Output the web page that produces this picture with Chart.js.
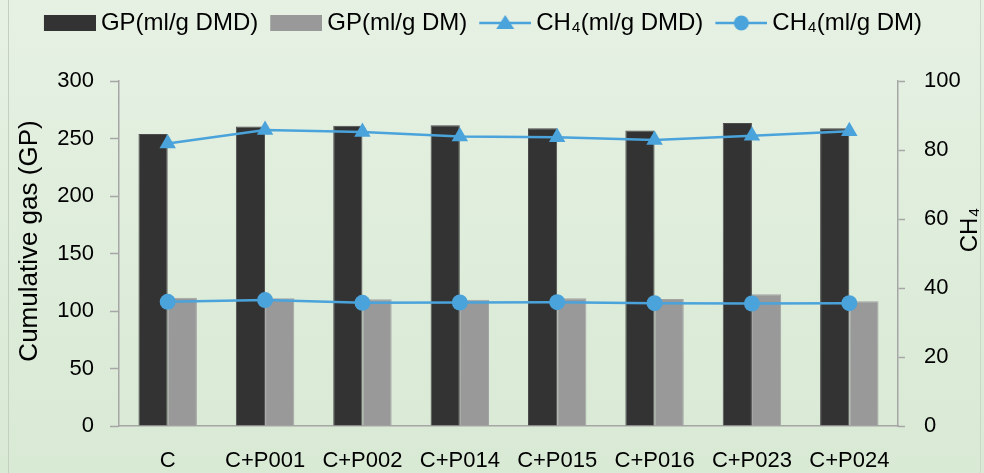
<!DOCTYPE html>
<html><head><meta charset="utf-8">
<script src="https://cdn.jsdelivr.net/npm/chart.js@4/dist/chart.umd.min.js"></script>
<style>
html,body{margin:0;padding:0;}
body{width:984px;height:473px;overflow:hidden;background:linear-gradient(#e6f1e3,#d8e9d4);position:relative;}
#frame{position:absolute;left:8px;top:-2px;width:973px;height:480px;border-left:1px solid #c3d0c0;border-right:1px solid #cad7c7;box-sizing:border-box;}
#wrap{position:absolute;left:0;top:0;width:984px;height:473px;}
</style></head><body>
<div id="frame"></div>
<div id="wrap"><canvas id="c" width="984" height="473"></canvas></div>
<script>
const categories = ['C', 'C+P001', 'C+P002', 'C+P014', 'C+P015', 'C+P016', 'C+P023', 'C+P024'];
const gpDMD = [254, 260.5, 261, 261.5, 259, 257, 263.5, 259];
const gpDM = [111.5, 111, 110.3, 109.8, 111, 110.5, 114.5, 108.5];
const ch4DMD = [81.9, 85.8, 85.2, 83.9, 83.7, 82.9, 84.1, 85.4];
const ch4DM = [36.0, 36.5, 35.7, 35.8, 35.9, 35.6, 35.5, 35.6];
const leftTicks = [0, 50, 100, 150, 200, 250, 300];
const rightTicks = [0, 20, 40, 60, 80, 100];
const seriesNames = ['GP(ml/g DMD)', 'GP(ml/g DM)', 'CH\u2084(ml/g DMD)', 'CH\u2084(ml/g DM)'];
const leftTitle = 'Cumulative gas (GP)';
const rightTitle = 'CH\u2084';

const DARK = '#333333', GRAY = '#999999', BLUE = '#4aa3db', AXIS = '#a6a6a6';
const FONT = "'Liberation Sans', Arial, sans-serif";

function legendImage(kind) {
  const cv = document.createElement('canvas');
  cv.width = 61; cv.height = 24;
  const g = cv.getContext('2d');
  const x0 = 9, w = 52, cy = 12;
  if (kind === 'dark' || kind === 'gray') {
    g.fillStyle = kind === 'dark' ? DARK : GRAY;
    g.fillRect(x0, cy - 8, w, 16);
  } else {
    g.strokeStyle = BLUE; g.lineWidth = 2.5;
    g.beginPath(); g.moveTo(x0, cy); g.lineTo(x0 + w, cy); g.stroke();
    g.fillStyle = BLUE;
    const cx = x0 + w / 2;
    if (kind === 'tri') {
      g.beginPath(); g.moveTo(cx, cy - 8); g.lineTo(cx + 9, cy + 6); g.lineTo(cx - 9, cy + 6); g.closePath(); g.fill();
    } else {
      g.beginPath(); g.arc(cx, cy, 7.5, 0, Math.PI * 2); g.fill();
    }
  }
  return cv;
}
const legendImgs = [legendImage('dark'), legendImage('gray'), legendImage('tri'), legendImage('dot')];

const titlesPlugin = {
  id: 'axisTitles',
  afterLayout(chart) {
    const L = chart.legend;
    if (L) {
      const dy = L.top - 1, dx = 10;
      L.top -= dy; L.bottom -= dy;
      L.left -= dx; L.right -= dx;
    }
  },
  afterDraw(chart) {
    const ctx = chart.ctx;
    const drawV = (text, x, y, size) => {
      ctx.save();
      ctx.translate(x, y);
      ctx.rotate(-Math.PI / 2);
      ctx.textAlign = 'center';
      ctx.textBaseline = 'middle';
      ctx.fillStyle = '#000';
      ctx.font = size + "px " + FONT;
      ctx.fillText(text, 0, 0);
      ctx.restore();
    };
    drawV(leftTitle, 30, 241, 26);
    drawV(rightTitle, 970, 230, 24);
  }
};

Chart.defaults.font.family = FONT;
Chart.defaults.color = '#000';

new Chart(document.getElementById('c'), {
  type: 'bar',
  data: {
    labels: categories,
    datasets: [
      { type: 'bar', label: seriesNames[0], data: gpDMD, backgroundColor: DARK, borderColor: '#4d4d4d', borderWidth: 1, yAxisID: 'y', order: 1 },
      { type: 'bar', label: seriesNames[1], data: gpDM, backgroundColor: GRAY, borderColor: '#a3a3a3', borderWidth: 1, yAxisID: 'y', order: 1 },
      { type: 'line', label: seriesNames[2], data: ch4DMD, borderColor: BLUE, backgroundColor: BLUE, borderWidth: 2.5, pointStyle: 'triangle', pointRadius: 9.5, pointBackgroundColor: BLUE, pointBorderColor: BLUE, pointBorderWidth: 0, tension: 0, yAxisID: 'y1', order: 0 },
      { type: 'line', label: seriesNames[3], data: ch4DM, borderColor: BLUE, backgroundColor: BLUE, borderWidth: 2.5, pointStyle: 'circle', pointRadius: 8, pointBackgroundColor: BLUE, pointBorderColor: BLUE, pointBorderWidth: 0, tension: 0, yAxisID: 'y1', order: 0 }
    ]
  },
  options: {
    responsive: false,
    animation: false,
    devicePixelRatio: 1,
    layout: { padding: { top: 1, left: 0, right: 0, bottom: 0 } },
    datasets: { bar: { categoryPercentage: 0.6, barPercentage: 1.0 } },
    plugins: {
      tooltip: { enabled: false },
      legend: {
        display: true,
        position: 'top',
        labels: {
          usePointStyle: true,
          pointStyleWidth: 47,
          padding: 10,
          font: { size: 24 },
          color: '#000',
          generateLabels(chart) {
            const items = Chart.defaults.plugins.legend.labels.generateLabels(chart);
            items.sort((a, b) => a.datasetIndex - b.datasetIndex);
            items.forEach(it => { it.pointStyle = legendImgs[it.datasetIndex]; });
            return items;
          }
        }
      }
    },
    scales: {
      x: {
        offset: true,
        grid: { display: false, drawTicks: false },
        border: { display: true, color: AXIS, width: 1.5 },
        ticks: { padding: 22, font: { size: 22 }, color: '#000', maxRotation: 0, autoSkip: false },
        afterFit(s) { s.height = 47; }
      },
      y: {
        position: 'left',
        min: 0, max: 300,
        afterBuildTicks(s) { s.ticks = leftTicks.map(v => ({ value: v })); },
        grid: { drawOnChartArea: false, drawTicks: true, tickLength: 9, tickColor: AXIS, tickWidth: 1.5 },
        border: { display: true, color: AXIS, width: 1.5 },
        ticks: { padding: 16, font: { size: 22 }, color: '#000' },
        afterFit(s) { s.width = 119; s.paddingTop = 81; }
      },
      y1: {
        position: 'right',
        min: 0, max: 100,
        afterBuildTicks(s) { s.ticks = rightTicks.map(v => ({ value: v })); },
        grid: { drawOnChartArea: false, drawTicks: true, tickLength: 7, tickColor: AXIS, tickWidth: 1.5 },
        border: { display: true, color: AXIS, width: 1.5 },
        ticks: { padding: 19, font: { size: 22 }, color: '#000' },
        afterFit(s) { s.width = 86; }
      }
    }
  },
  plugins: [titlesPlugin]
});
</script>
</body></html>
